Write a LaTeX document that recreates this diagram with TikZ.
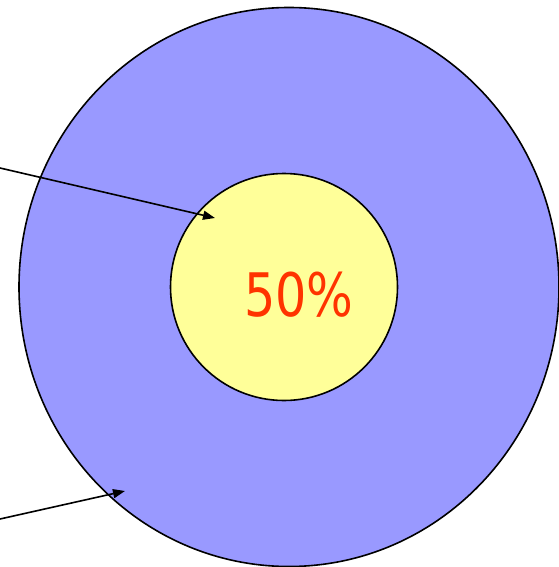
\documentclass[tikz,border=0pt]{standalone}
\usepackage{fontspec}
\setmainfont{DejaVu Sans}
\usetikzlibrary{shapes.geometric,arrows.meta}
\definecolor{outerblue}{HTML}{9999FF}
\definecolor{inneryellow}{HTML}{FFFF99}
\definecolor{labelred}{HTML}{FF3300}
\tikzset{
  ring/.style={draw=black, line width=1.6pt, inner sep=0pt},
  pointer/.style={draw=black, line width=1.6pt, -{Triangle[length=12pt,width=9pt]}},
}
\begin{document}
\begin{tikzpicture}[x=1pt,y=-1pt]
\useasboundingbox (0,0) rectangle (558,567);
\node[ring, ellipse, fill=outerblue, minimum width=540pt, minimum height=559pt] (outer) at (289,287) {};
\node[ring, circle, fill=inneryellow, minimum size=227pt] (inner) at (284,287) {};
\node[text=labelred, font=\fontsize{60}{64}\selectfont, inner sep=0pt] (pct) at (299,295) {\scalebox{0.82}[1]{50\%}};
\coordinate (src1) at (0,168);
\coordinate (tip1) at (215,218);
\coordinate (src2) at (0,519);
\coordinate (tip2) at (125,491);
\draw[pointer] (src1) -- (tip1);
\draw[pointer] (src2) -- (tip2);
\end{tikzpicture}
\end{document}
